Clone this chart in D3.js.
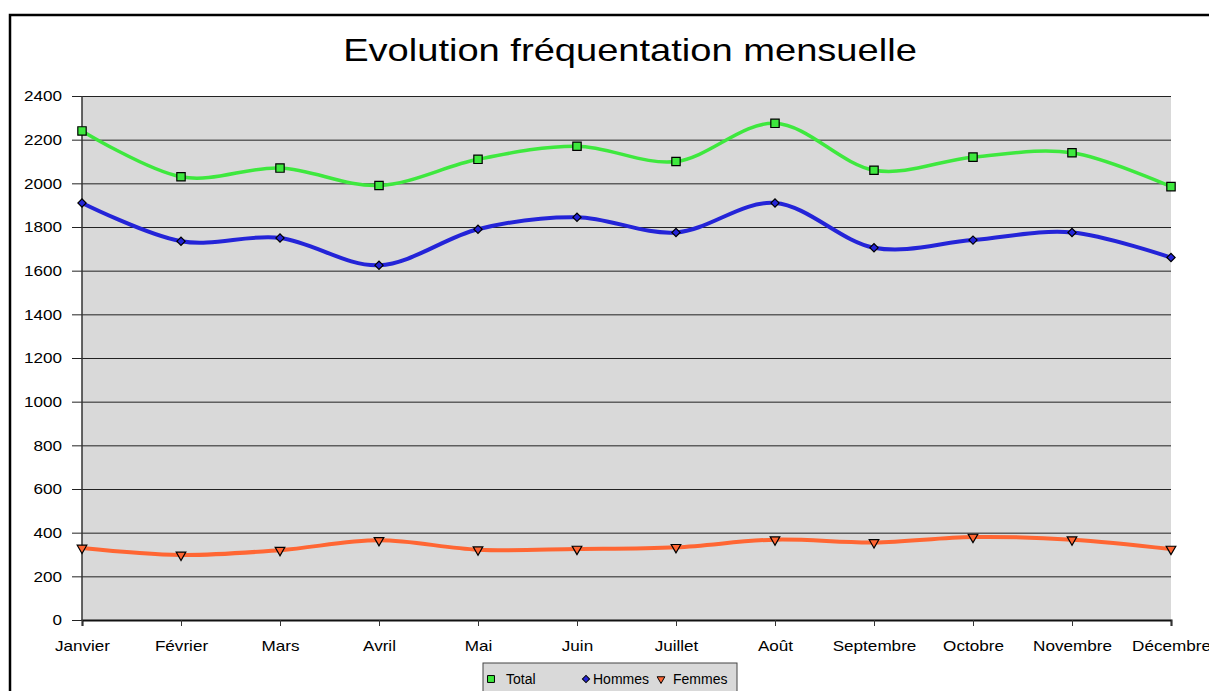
<!DOCTYPE html>
<html>
<head>
<meta charset="utf-8">
<script src="https://cdn.jsdelivr.net/npm/d3@7"></script>
<style>
  body { margin: 0; background: #fff; }
  svg { display: block; font-family: "Liberation Sans", Arial, sans-serif; }
</style>
</head>
<body>
<svg id="viz"></svg>
<script>
// ----------------------------------------------------------------------------------------------------------------
// DATA

var months = ["Janvier", "Février", "Mars", "Avril", "Mai", "Juin", "Juillet", "Août", "Septembre", "Octobre", "Novembre", "Décembre"];
var total  = [2240, 2030, 2070, 1990, 2110, 2170, 2100, 2275, 2060, 2120, 2140, 1985];
var hommes = [1910, 1735, 1750, 1625, 1790, 1845, 1775, 1910, 1705, 1740, 1775, 1660];
var femmes = [330, 298, 320, 365, 322, 325, 333, 368, 355, 380, 368, 325];
var yTicks = [0, 200, 400, 600, 800, 1000, 1200, 1400, 1600, 1800, 2000, 2200, 2400];
var seriesNames = ["Total", "Hommes", "Femmes"];

// ----------------------------------------------------------------------------------------------------------------
// INITIAL SETUP

var w = 1209;
var h = 691;
var viz = d3.select("#viz").attr("width", w).attr("height", h);

var plotL = 82, plotR = 1171, plotT = 96, plotB = 620;

var x = d3.scalePoint().domain(months).range([plotL, plotR]);
var y = d3.scaleLinear().domain([0, 2400]).range([plotB, plotT]);

// stretch text horizontally, the original picture is a bit wide
function stretch(sel, k) {
  sel.each(function() {
    var len = this.getComputedTextLength();
    d3.select(this).attr("textLength", len * k).attr("lengthAdjust", "spacingAndGlyphs");
  });
}

// outer chart border (cut at right and bottom)
viz.append("rect")
  .attr("x", 10).attr("y", 15)
  .attr("width", 1400).attr("height", 900)
  .attr("fill", "#fff").attr("stroke", "#000").attr("stroke-width", 2.5);

// title
var title = viz.append("text")
  .attr("x", 630).attr("y", 61)
  .attr("text-anchor", "middle")
  .attr("font-size", 32)
  .attr("fill", "#000")
  .text("Evolution fréquentation mensuelle");
stretch(title, 1.19);

// plot area
viz.append("rect")
  .attr("x", plotL).attr("y", plotT)
  .attr("width", plotR - plotL).attr("height", plotB - plotT)
  .attr("fill", "#d9d9d9");

// ----------------------------------------------------------------------------------------------------------------
// AXES

var gy = viz.append("g")
  .attr("transform", "translate(" + plotL + ",0)")
  .call(d3.axisLeft(y).tickValues(yTicks).tickSize(plotR - plotL + 10).tickPadding(10).tickFormat(d3.format("d")));
gy.select(".domain").remove();
gy.selectAll(".tick line")
  .attr("transform", "translate(" + (plotR - plotL) + ",0)")
  .attr("stroke", "#222").attr("stroke-width", 1);
gy.selectAll(".tick text")
  .attr("x", -20)
  .attr("font-size", 15).attr("fill", "#000")
  .attr("font-family", "Liberation Sans, Arial, sans-serif");
stretch(gy.selectAll(".tick text"), 1.14);

var gx = viz.append("g")
  .attr("transform", "translate(0," + plotB + ")")
  .call(d3.axisBottom(x).tickSize(6).tickPadding(14));
gx.select(".domain").attr("stroke", "#111").attr("stroke-width", 2);
gx.selectAll(".tick line").attr("stroke", "#333");
gx.selectAll(".tick text")
  .attr("font-size", 15).attr("fill", "#000")
  .attr("font-family", "Liberation Sans, Arial, sans-serif");
stretch(gx.selectAll(".tick text"), 1.14);

// left axis line
viz.append("line")
  .attr("x1", plotL).attr("x2", plotL)
  .attr("y1", plotT).attr("y2", plotB + 1)
  .attr("stroke", "#333").attr("stroke-width", 1.5);

// ----------------------------------------------------------------------------------------------------------------
// LINES

var series = [
  {name: seriesNames[0], values: total,  color: "#3ee83e", width: 3.5, marker: d3.symbolSquare,   size: 70, rot: 0},
  {name: seriesNames[1], values: hommes, color: "#2424d8", width: 4,   marker: d3.symbolSquare,   size: 34, rot: 45},
  {name: seriesNames[2], values: femmes, color: "#ff6633", width: 4,   marker: d3.symbolTriangle, size: 40, rot: 180}
];

var line = d3.line()
  .x(function(d, i) { return x(months[i]); })
  .y(function(d) { return y(d); })
  .curve(d3.curveCardinal.tension(0));

series.forEach(function(s) {
  viz.append("path")
    .datum(s.values)
    .attr("d", line)
    .attr("fill", "none")
    .attr("stroke", s.color)
    .attr("stroke-width", s.width);
});

series.forEach(function(s) {
  viz.selectAll("path.m-" + s.name)
    .data(s.values)
    .enter()
    .append("path")
    .attr("class", "m-" + s.name)
    .attr("d", d3.symbol().type(s.marker).size(s.size))
    .attr("transform", function(d, i) {
      return "translate(" + x(months[i]) + "," + y(d) + ") rotate(" + s.rot + ")";
    })
    .attr("fill", s.color)
    .attr("stroke", "#000")
    .attr("stroke-width", 1.2);
});

// ----------------------------------------------------------------------------------------------------------------
// LEGEND

var legend = viz.append("g");
legend.append("rect")
  .attr("x", 483).attr("y", 663)
  .attr("width", 254).attr("height", 40)
  .attr("fill", "#d9d9d9").attr("stroke", "#444").attr("stroke-width", 1);

var legX = [491, 586, 661];
var legT = [506, 593, 673];
series.forEach(function(s, i) {
  legend.append("path")
    .attr("d", d3.symbol().type(s.marker).size(i === 0 ? 48 : 26))
    .attr("transform", "translate(" + legX[i] + ",679) rotate(" + s.rot + ")")
    .attr("fill", s.color).attr("stroke", "#000").attr("stroke-width", 1);
  legend.append("text")
    .attr("x", legT[i]).attr("y", 684)
    .attr("font-size", 14).attr("fill", "#000")
    .text(s.name);
});
</script>
</body>
</html>
